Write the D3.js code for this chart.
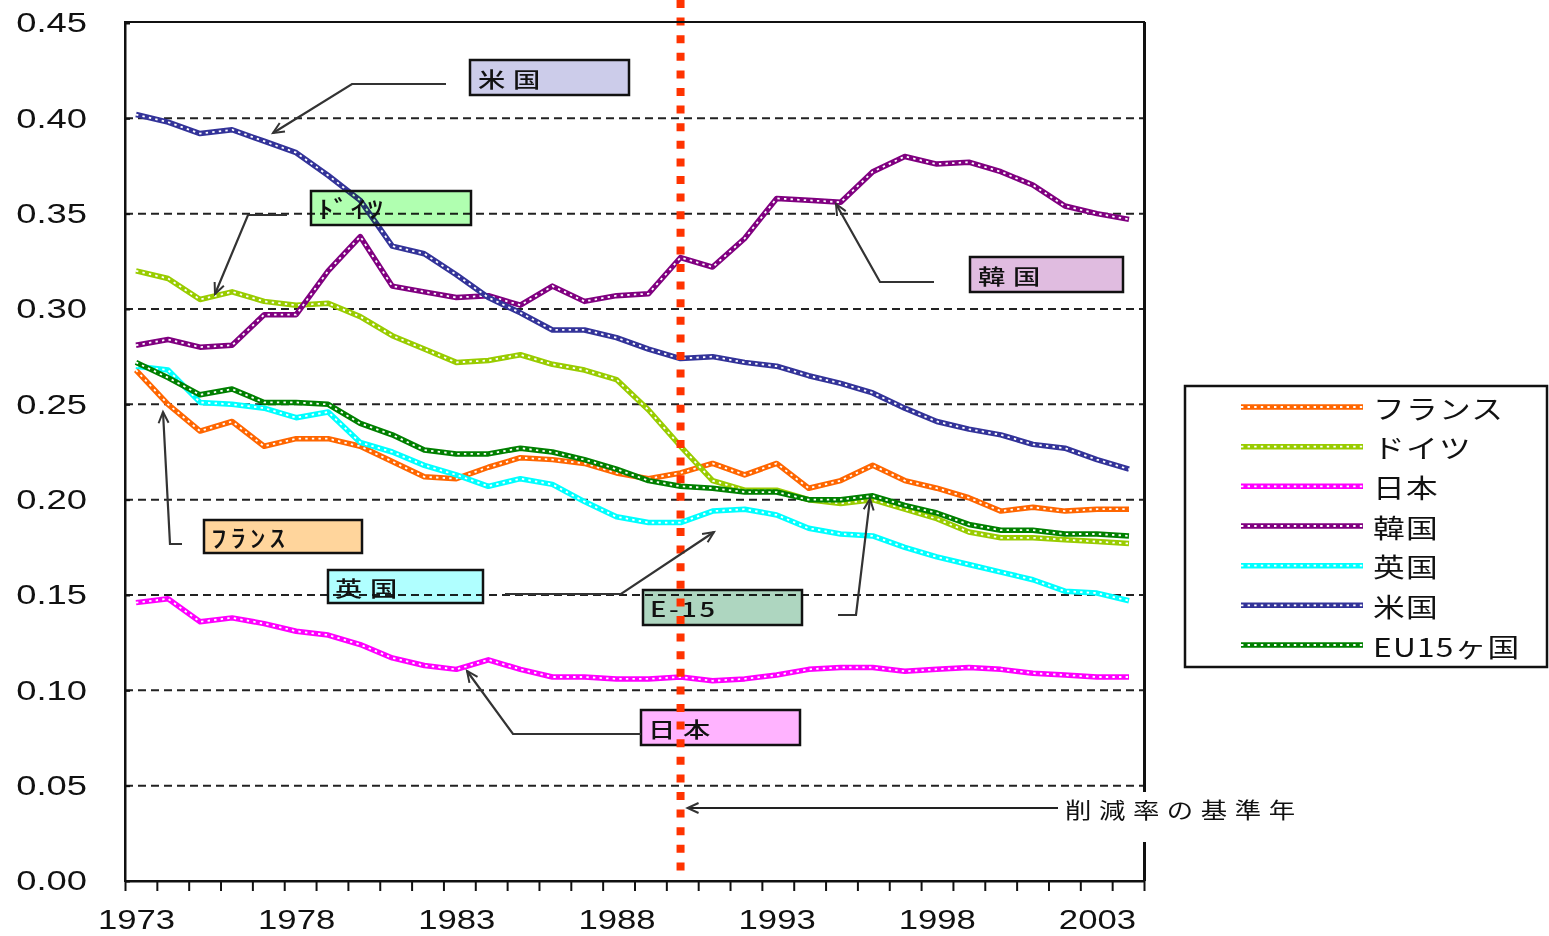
<!DOCTYPE html>
<html>
<head>
<meta charset="utf-8">
<script src="https://cdn.jsdelivr.net/npm/d3@7"></script>
<style>
  body { margin: 0; background: #fff; }
  svg { display: block; }
</style>
</head>
<body>
<svg id="chart" width="1549" height="936"></svg>
<script>
// ---- data -------------------------------------------------------------
const years = [1973,1974,1975,1976,1977,1978,1979,1980,1981,1982,1983,1984,1985,1986,1987,1988,
               1989,1990,1991,1992,1993,1994,1995,1996,1997,1998,1999,2000,2001,2002,2003,2004];

const france  = [0.268,0.250,0.236,0.241,0.228,0.232,0.232,0.228,0.220,0.212,0.211,0.217,0.222,0.221,0.219,0.214,
                 0.211,0.214,0.219,0.213,0.219,0.206,0.210,0.218,0.210,0.206,0.201,0.194,0.196,0.194,0.195,0.195];
const germany = [0.320,0.316,0.305,0.309,0.304,0.302,0.303,0.296,0.286,0.279,0.272,0.273,0.276,0.271,0.268,0.263,
                 0.247,0.228,0.210,0.205,0.205,0.200,0.198,0.200,0.195,0.190,0.183,0.180,0.180,0.179,0.178,0.177];
const japan   = [0.146,0.148,0.136,0.138,0.135,0.131,0.129,0.124,0.117,0.113,0.111,0.116,0.111,0.107,0.107,0.106,
                 0.106,0.107,0.105,0.106,0.108,0.111,0.112,0.112,0.110,0.111,0.112,0.111,0.109,0.108,0.107,0.107];
const korea   = [0.281,0.284,0.280,0.281,0.297,0.297,0.320,0.338,0.312,0.309,0.306,0.307,0.302,0.312,0.304,0.307,
                 0.308,0.327,0.322,0.337,0.358,0.357,0.356,0.372,0.380,0.376,0.377,0.372,0.365,0.354,0.350,0.347];
const uk      = [0.270,0.268,0.251,0.250,0.248,0.243,0.246,0.230,0.225,0.218,0.213,0.207,0.211,0.208,0.199,0.191,
                 0.188,0.188,0.194,0.195,0.192,0.185,0.182,0.181,0.175,0.170,0.166,0.162,0.158,0.152,0.151,0.147];
const usa     = [0.402,0.398,0.392,0.394,0.388,0.382,0.370,0.357,0.333,0.329,0.318,0.306,0.298,0.289,0.289,0.285,
                 0.279,0.274,0.275,0.272,0.270,0.265,0.261,0.256,0.248,0.241,0.237,0.234,0.229,0.227,0.221,0.216];
const eu15    = [0.272,0.264,0.255,0.258,0.251,0.251,0.250,0.240,0.234,0.226,0.224,0.224,0.227,0.225,0.221,0.216,
                 0.210,0.207,0.206,0.204,0.204,0.200,0.200,0.202,0.197,0.193,0.187,0.184,0.184,0.182,0.182,0.181];

const seriesNames  = ["フランス", "ドイツ", "日本", "韓国", "英国", "米国", "EU15ヶ国"];
const seriesValues = [france, germany, japan, korea, uk, usa, eu15];

const yTickValues = [0, 0.05, 0.10, 0.15, 0.20, 0.25, 0.30, 0.35, 0.40, 0.45];
const yearLabels  = [1973, 1978, 1983, 1988, 1993, 1998, 2003];
const baseYear    = 1990;
const baseYearNote = "削減率の基準年";

// ---- styles -----------------------------------------------------------
const seriesColors = ["#ff6600", "#99cc00", "#ff00ff", "#800080", "#00ffff", "#333399", "#008000"];
const jp  = "'Noto Sans CJK JP', 'Noto Sans', sans-serif";
const num = "'Liberation Sans', Arial, sans-serif";

// ---- scales -----------------------------------------------------------
const plot = { left: 125, right: 1144, top: 22, bottom: 881 };
const x = d3.scalePoint().domain(years).range([136, 1129]);
const xEdge = d3.scaleLinear().domain([0, years.length]).range([plot.left, plot.right]);
const y = d3.scaleLinear().domain([0, 0.45]).range([plot.bottom, plot.top + 1]);

const svg = d3.select("#chart");

const defs = svg.append("defs");
defs.append("marker")
  .attr("id", "arrow")
  .attr("markerUnits", "userSpaceOnUse")
  .attr("markerWidth", 16).attr("markerHeight", 16)
  .attr("refX", 13).attr("refY", 8)
  .attr("orient", "auto")
  .append("path")
  .attr("d", "M2,3 L13,8 L2,13")
  .attr("fill", "none").attr("stroke", "#333").attr("stroke-width", 2);

// ---- gridlines ----------------------------------------------------------
svg.append("g").selectAll("line")
  .data(yTickValues.filter(v => v > 0 && v < 0.45))
  .join("line")
  .attr("x1", plot.left).attr("x2", plot.right)
  .attr("y1", d => y(d)).attr("y2", d => y(d))
  .attr("stroke", "#222").attr("stroke-width", 2)
  .attr("stroke-dasharray", "8,5");

// ---- series (chain-marker look) ------------------------------------------
const line = d3.line().x((d, i) => x(years[i])).y(d => y(d));

function chain(g, color) {
  g.append("path").attr("class", "base")
    .attr("fill", "none").attr("stroke", color).attr("stroke-width", 5.5)
    .attr("stroke-linejoin", "round");
  g.append("path").attr("class", "hole")
    .attr("fill", "none").attr("stroke", "#fff").attr("stroke-width", 1.8)
    .attr("stroke-dasharray", "2.4,4.2");
}

const seriesG = svg.append("g");
seriesValues.forEach((vals, k) => {
  const g = seriesG.append("g");
  chain(g, seriesColors[k]);
  g.selectAll("path").attr("d", line(vals));
});

// ---- callout boxes ----------------------------------------------------
const callouts = [
  { text: "米国",  box: [470, 60, 159, 35],  fill: "#ccccea", tx: 478, fs: 21, ls: 6, leader: [[446, 84], [352, 84], [273, 133]] },
  { text: "ﾄﾞｲﾂ",  box: [311, 191, 160, 34], fill: "#b0ffb0", tx: 318, fs: 24, ls: 1, leader: [[287, 215], [248, 215], [215, 294]] },
  { text: "韓国",  box: [970, 257, 153, 35], fill: "#e0bce0", tx: 978, fs: 21, ls: 6, leader: [[934, 282], [880, 282], [836, 204]] },
  { text: "ﾌﾗﾝｽ",  box: [204, 520, 158, 33], fill: "#ffd59c", tx: 211, fs: 24, ls: 3, leader: [[182, 544], [170, 544], [163, 412]] },
  { text: "英国",  box: [328, 570, 155, 33], fill: "#b0ffff", tx: 335, fs: 21, ls: 6, leader: [[505, 594], [621, 594], [714, 532]] },
  { text: "E-15",  box: [643, 590, 159, 35], fill: "#aed6c0", tx: 650, fs: 21, ls: 2, leader: [[838, 615], [856, 615], [870, 499]] },
  { text: "日本",  box: [641, 710, 159, 35], fill: "#ffb3ff", tx: 648, fs: 21, ls: 6, leader: [[641, 734], [513, 734], [467, 671]] }
];

const boxG = svg.append("g");
callouts.forEach(c => {
  const [bx, by, bw, bh] = c.box;
  boxG.append("rect")
    .attr("x", bx).attr("y", by).attr("width", bw).attr("height", bh)
    .attr("fill", c.fill).style("mix-blend-mode", "multiply");
  boxG.append("rect")
    .attr("x", bx).attr("y", by).attr("width", bw).attr("height", bh)
    .attr("fill", "none").attr("stroke", "#111").attr("stroke-width", 2.5);
  boxG.append("text")
    .attr("transform", `translate(${c.tx},${by + bh / 2}) scale(1.3,1)`)
    .attr("dominant-baseline", "central")
    .attr("font-family", jp).attr("font-size", c.fs).attr("font-weight", 500)
    .attr("letter-spacing", c.ls)
    .attr("fill", "#111")
    .text(c.text);
});

// ---- base-year reference line -------------------------------------------
svg.append("line")
  .attr("x1", x(baseYear)).attr("x2", x(baseYear))
  .attr("y1", 0).attr("y2", plot.bottom)
  .attr("stroke", "#ff3300").attr("stroke-width", 8)
  .attr("stroke-dasharray", "8,9.6");

// ---- leaders ----------------------------------------------------------
const leaderG = svg.append("g");
callouts.forEach(c => {
  leaderG.append("path")
    .attr("d", d3.line()(c.leader))
    .attr("fill", "none").attr("stroke", "#333").attr("stroke-width", 2.2)
    .attr("marker-end", "url(#arrow)");
});

// ---- frame and axes -----------------------------------------------------
svg.append("rect")
  .attr("x", plot.left).attr("y", plot.top)
  .attr("width", plot.right - plot.left).attr("height", plot.bottom - plot.top)
  .attr("fill", "none").attr("stroke", "#111").attr("stroke-width", 2);
svg.append("line")
  .attr("x1", plot.right + 1).attr("x2", plot.right + 1)
  .attr("y1", plot.top).attr("y2", plot.bottom)
  .attr("stroke", "#111").attr("stroke-width", 2);

// y axis: ticks point into the plot
const yAxisG = svg.append("g")
  .attr("transform", `translate(${plot.left},0)`)
  .call(d3.axisLeft(y).tickValues(yTickValues).tickSizeInner(-5).tickSizeOuter(0)
        .tickFormat(d3.format(".2f")));
yAxisG.select(".domain").attr("stroke", "#111").attr("stroke-width", 2);
yAxisG.selectAll(".tick line").attr("stroke", "#111").attr("stroke-width", 2);
yAxisG.selectAll(".tick text")
  .attr("x", -38 / 1.3)
  .attr("transform", "scale(1.3,1)")
  .attr("font-family", num).attr("font-size", 28)
  .attr("fill", "#111");

// x axis: tick marks on category boundaries, labels every five years
const xTickG = svg.append("g")
  .attr("transform", `translate(0,${plot.bottom})`)
  .call(d3.axisBottom(xEdge).tickValues(d3.range(0, years.length + 1)).tickSize(10).tickSizeOuter(0)
        .tickFormat(""));
xTickG.select(".domain").attr("stroke", "#111").attr("stroke-width", 2);
xTickG.selectAll(".tick line").attr("stroke", "#111").attr("stroke-width", 2);

const xLabG = svg.append("g")
  .attr("transform", `translate(0,${plot.bottom})`)
  .call(d3.axisBottom(x).tickValues(yearLabels).tickSize(0).tickPadding(28)
        .tickFormat(d3.format("d")));
xLabG.select(".domain").remove();
xLabG.selectAll(".tick text")
  .attr("transform", "scale(1.24,1)")
  .attr("font-family", num).attr("font-size", 28)
  .attr("fill", "#111");

// ---- base-year note ---------------------------------------------------
svg.append("rect")
  .attr("x", 1060).attr("y", 792).attr("width", 252).attr("height", 50)
  .attr("fill", "#fff");
svg.append("path")
  .attr("d", d3.line()([[1058, 808], [x(baseYear) + 7, 808]]))
  .attr("fill", "none").attr("stroke", "#222").attr("stroke-width", 2.2)
  .attr("marker-end", "url(#arrow)");
svg.append("text")
  .attr("transform", "translate(1065,808) scale(1.2,1)")
  .attr("dominant-baseline", "central")
  .attr("font-family", jp).attr("font-size", 22)
  .attr("letter-spacing", 6.3)
  .attr("fill", "#111")
  .text(baseYearNote);

// ---- legend -----------------------------------------------------------
const legend = svg.append("g");
legend.append("rect")
  .attr("x", 1185).attr("y", 386).attr("width", 362).attr("height", 281)
  .attr("fill", "#fff").attr("stroke", "#111").attr("stroke-width", 2.5);

const legendY = d3.scalePoint().domain(seriesNames).range([407, 645]);
seriesNames.forEach((name, k) => {
  const ly = legendY(name);
  const g = legend.append("g");
  chain(g, seriesColors[k]);
  g.selectAll("path").attr("d", d3.line()([[1241, ly], [1363, ly]]));
  legend.append("text")
    .attr("transform", `translate(1373,${ly}) scale(1.22,1)`)
    .attr("dominant-baseline", "central")
    .attr("font-family", jp).attr("font-size", 26)
    .attr("letter-spacing", 1)
    .attr("fill", "#111")
    .text(name);
});
</script>
</body>
</html>
